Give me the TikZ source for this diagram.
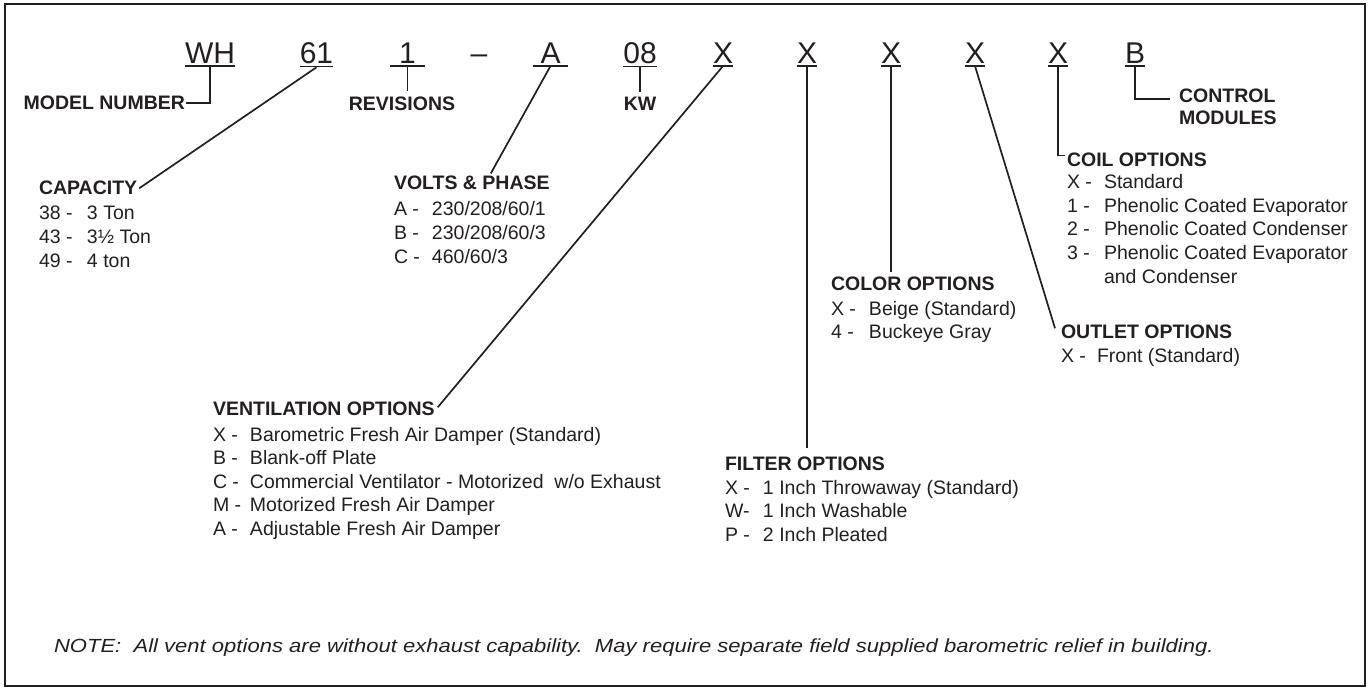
\documentclass[tikz,border=0pt]{standalone}
\usepackage{fontspec}
\setmainfont{Liberation Sans}
\usepackage{tikz}
\usetikzlibrary{calc}
\definecolor{ink}{RGB}{35,31,32}
\newcommand{\optrow}[3]{\makebox[#1][l]{#2}#3}

\begin{document}
\begin{tikzpicture}[x=1pt,y=-1pt,
  every node/.style={inner sep=0pt,outer sep=0pt,text=ink},
  code/.style={font=\fontsize{30}{30}\selectfont,anchor=base},
  head/.style={font=\bfseries\fontsize{19.5}{20}\selectfont,anchor=base west},
  entry/.style={font=\fontsize{19.5}{20}\selectfont,anchor=base west},
  lead/.style={draw=ink,line width=1.7pt},
  uline/.style={draw=ink,line width=1.2pt}]
\useasboundingbox (0,0) rectangle (1368,687);
\draw[ink,line width=2pt] (4.5,4.5) rectangle (1364.5,685.5);

% model number characters
\node[code] (wh) at (210,64) {WH};
\node[code] (cap61) at (316.5,64) {61};
\node[code,minimum width=35pt] (rev1) at (407.5,64) {1};
\node[code] (dash) at (479,64) {\textendash};
\node[code,minimum width=35pt] (voltA) at (550.5,64) {A};
\node[code] (kw08) at (640,64) {08};
\node[code] (ventX) at (723,64) {X};
\node[code] (filtX) at (807,64) {X};
\node[code] (colX) at (891,64) {X};
\node[code] (outX) at (975,64) {X};
\node[code] (coilX) at (1058,64) {X};
\node[code] (ctlB) at (1135,64) {B};
\foreach \n in {wh,cap61,rev1,voltA,kw08,ventX,filtX,colX,outX,coilX,ctlB}
  \draw[uline] ([yshift=-2pt]\n.south west) -- ([yshift=-2pt]\n.south east);

% headings
\node[head,anchor=base east] (model) at (185,110) {MODEL NUMBER};
\node[head,anchor=base] (revs) at (402,111) {REVISIONS};
\node[head,anchor=base] (kw) at (640,111) {KW};
\node[head] (ctl) at (1179,103) {CONTROL};
\node[head] (mods) at (1179,125) {MODULES};
\node[head] (cap) at (39,195) {CAPACITY};
\node[head] (volt) at (394,190) {VOLTS \& PHASE};
\node[head] (coil) at (1067,167) {COIL OPTIONS};
\node[head] (color) at (831,290) {COLOR OPTIONS};
\node[head] (outlet) at (1061,338) {OUTLET OPTIONS};
\node[head] (vent) at (213,415) {VENTILATION OPTIONS};
\node[head] (filt) at (725,470) {FILTER OPTIONS};

% option lists
\foreach \k/\t [count=\i] in {38 -/3 Ton, 43 -/3½ Ton, 49 -/4 ton}
  \node[entry] (cap-\i) at (39,196.5+23.5*\i) {\optrow{48pt}{\k}{\t}};
\foreach \k/\t [count=\i] in {A -/{230/208/60/1}, B -/{230/208/60/3}, C -/{460/60/3}}
  \node[entry] (volt-\i) at (394,192.5+23.5*\i) {\optrow{38pt}{\k}{\t}};
\foreach \k/\t [count=\i] in {X -/Standard, 1 -/Phenolic Coated Evaporator,
    2 -/Phenolic Coated Condenser, 3 -/Phenolic Coated Evaporator, /and Condenser}
  \node[entry] (coil-\i) at (1067,165.5+23.5*\i) {\optrow{37pt}{\k}{\t}};
\foreach \k/\t [count=\i] in {X -/Beige (Standard), 4 -/Buckeye Gray}
  \node[entry] (color-\i) at (831,291.5+23.5*\i) {\optrow{38pt}{\k}{\t}};
\foreach \k/\t [count=\i] in {X -/Front (Standard)}
  \node[entry] (outlet-\i) at (1061,338.5+23.5*\i) {\optrow{36pt}{\k}{\t}};
\foreach \k/\t [count=\i] in {X -/Barometric Fresh Air Damper (Standard), B -/Blank-off Plate,
    C -/{Commercial Ventilator - Motorized\ \ w/o Exhaust}, M -/Motorized Fresh Air Damper,
    A -/Adjustable Fresh Air Damper}
  \node[entry] (vent-\i) at (213,417.5+23.5*\i) {\optrow{37pt}{\k}{\t}};
\foreach \k/\t [count=\i] in {X -/1 Inch Throwaway (Standard), W-/1 Inch Washable, P -/2 Inch Pleated}
  \node[entry] (filt-\i) at (725,470.5+23.5*\i) {\optrow{38pt}{\k}{\t}};

% leaders
\draw[lead] ([yshift=-2pt]wh.south) |- ([xshift=1pt]model.east);
\draw[lead] ([yshift=-3pt]cap61.south) -- ([xshift=2pt]cap.east);
\draw[lead] ([yshift=-2pt]rev1.south) -- ($(rev1.south |- revs.north)+(0,-6)$);
\draw[lead] ([yshift=-2pt]voltA.south) -- ([xshift=19pt,yshift=3pt]volt.north);
\draw[lead] ([yshift=-2pt]kw08.south) -- ($(kw.north)+(0,-6)$);
\draw[lead] ([yshift=-2pt]ventX.south) -- ([xshift=3pt,yshift=1pt]vent.east);
\draw[lead] ([yshift=-2pt]filtX.south) -- ($(filtX.south |- filt.north)+(0,-8)$);
\draw[lead] ([yshift=-2pt]colX.south) -- ($(colX.south |- color.north)+(0,-4)$);
\draw[lead] ([yshift=-2pt]outX.south) -- ([xshift=-6pt,yshift=3pt]outlet.west);
\draw[lead] ([yshift=-2pt]coilX.south) |- ([xshift=-2pt,yshift=-2pt]coil.north west);
\draw[lead] ([yshift=-2pt]ctlB.south) |- ([xshift=-9pt,yshift=-3pt]ctl.west);

\node[anchor=base west,font=\itshape\fontsize{19}{20}\selectfont] (note) at (54,652)
  {\scalebox{1.16}[1]{NOTE:\ \ All vent options are without exhaust capability.\ \ May require separate field supplied barometric relief in building.}};
\end{tikzpicture}
\end{document}
